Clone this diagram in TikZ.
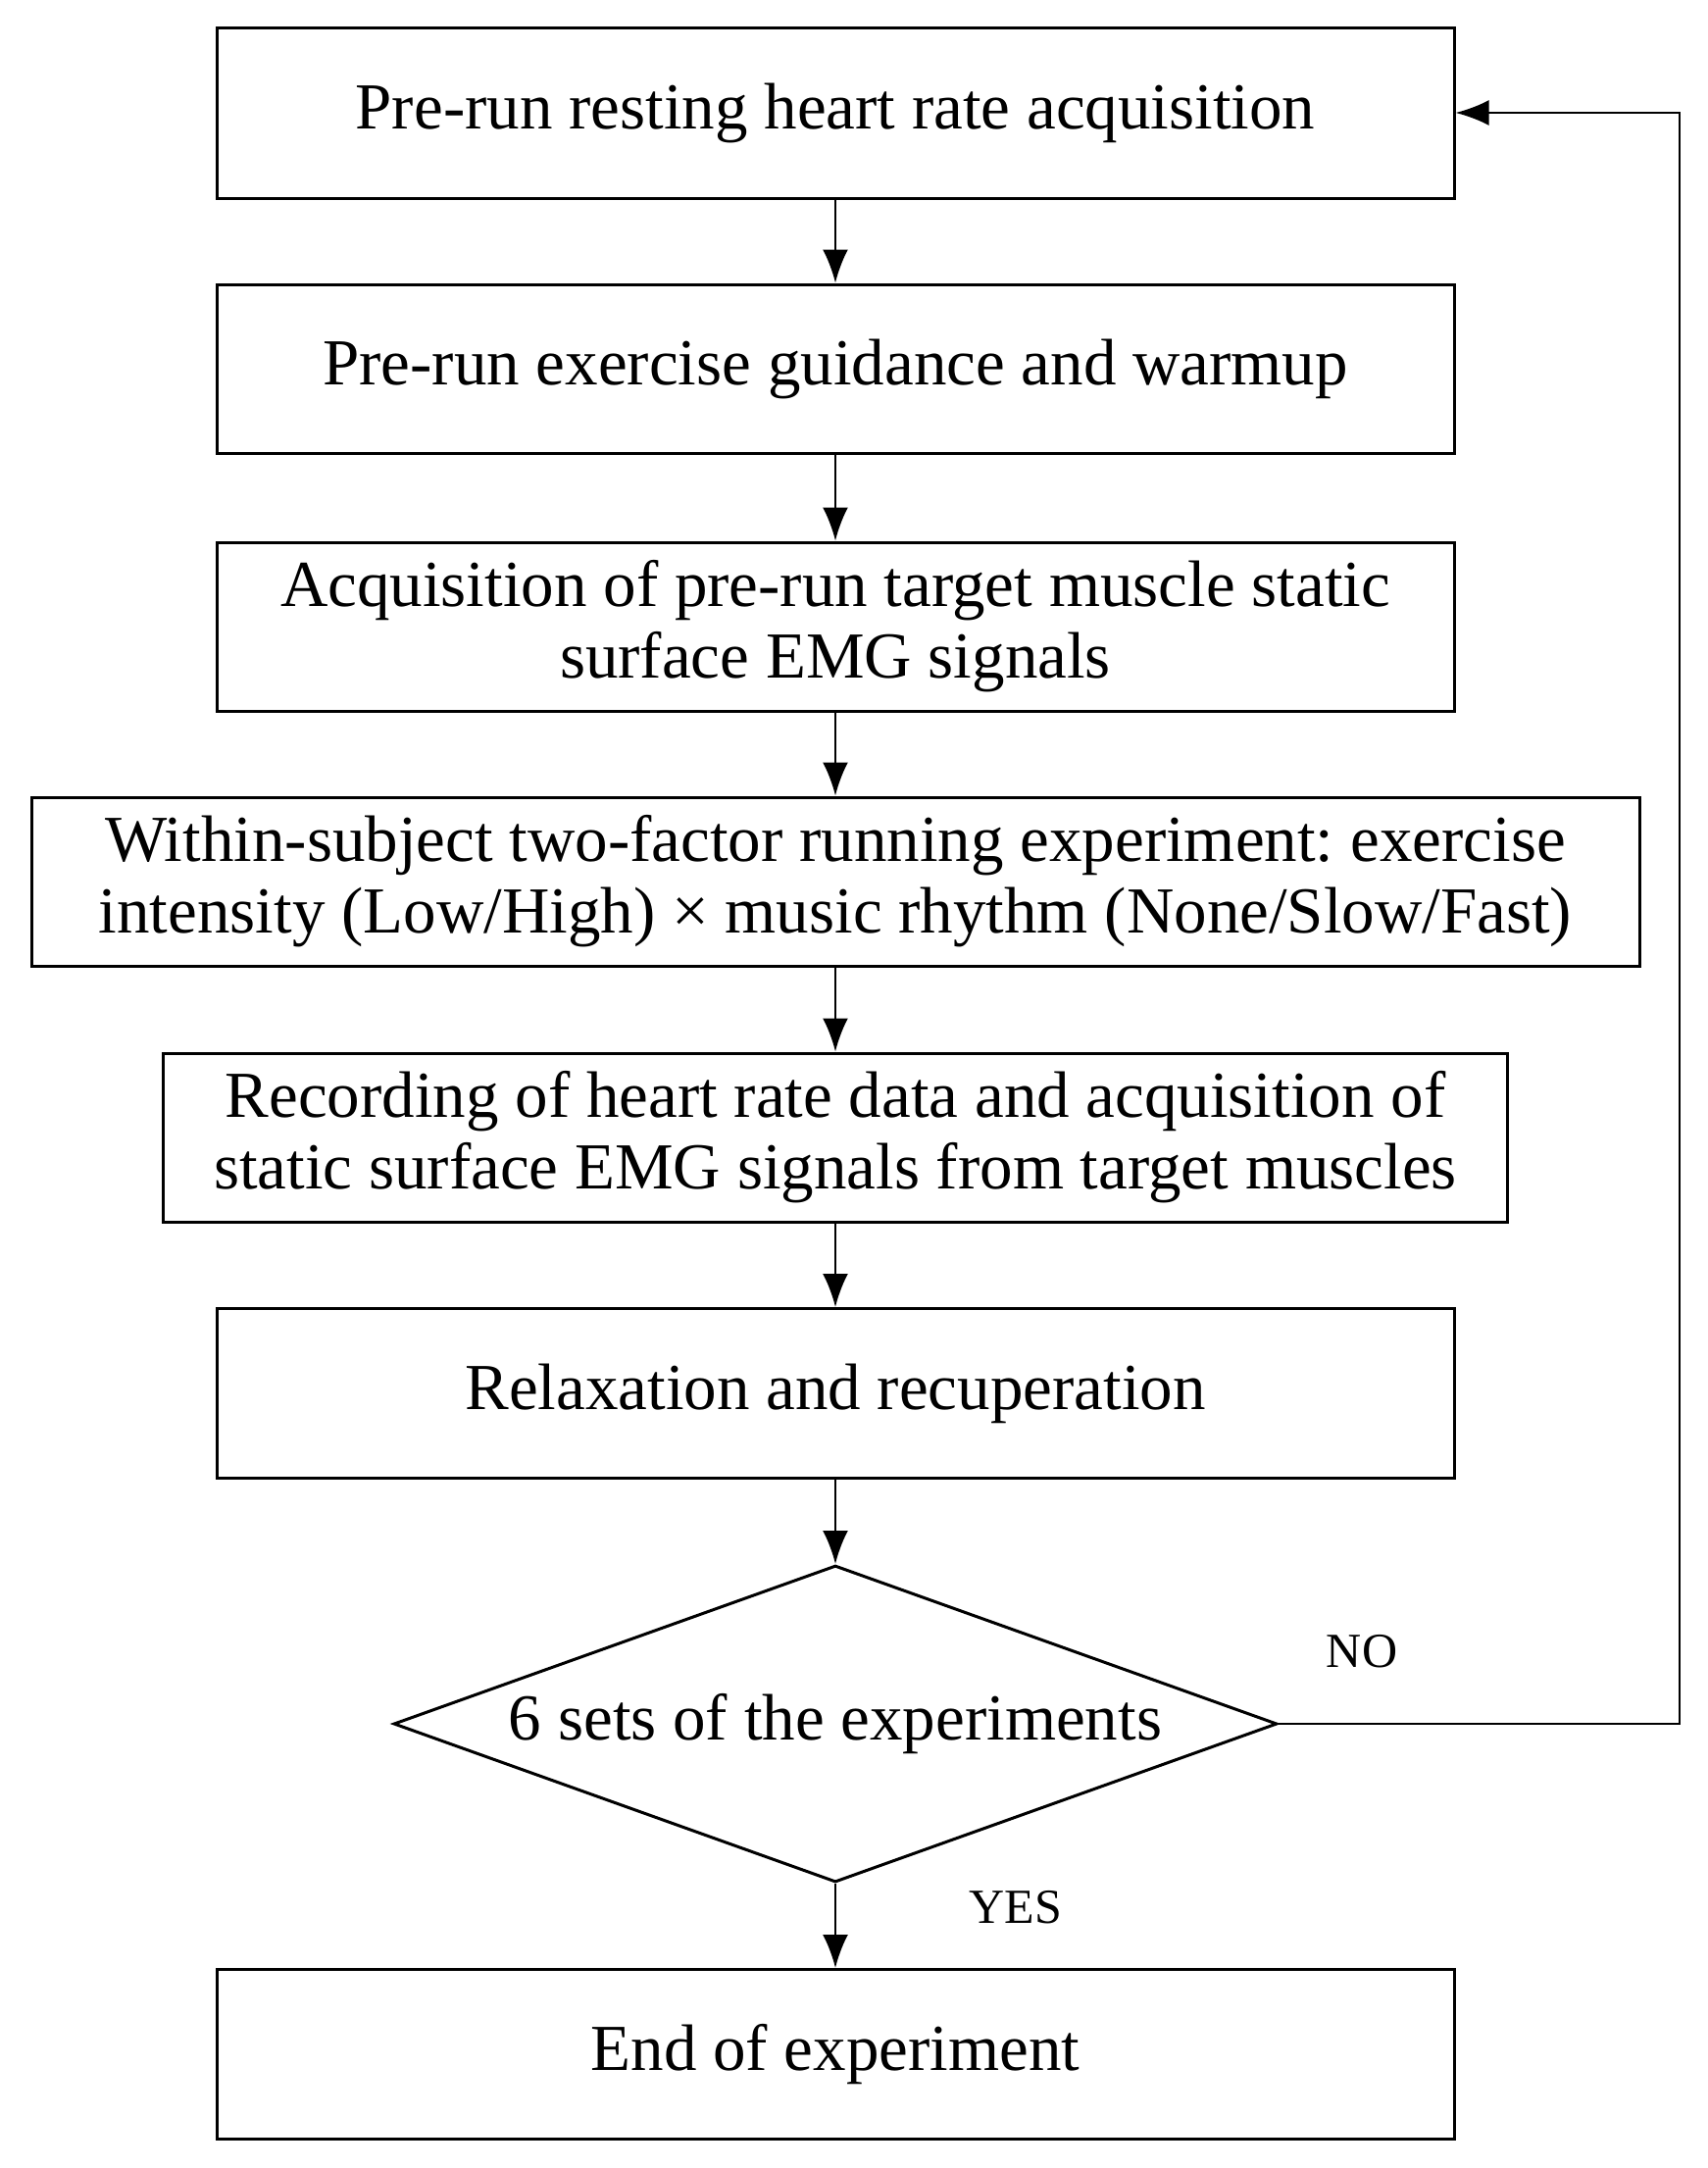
\documentclass[tikz,border=0pt]{standalone}
\usepackage{fontspec}
\setmainfont{Liberation Serif}
\usetikzlibrary{shapes.geometric,arrows.meta}
\begin{document}
\frenchspacing
\begin{tikzpicture}[x=0.5pt,y=-0.5pt,
  box/.style={draw,line width=1.5pt,inner sep=0pt,align=center,font=\fontsize{33.5}{36.5}\selectfont},
  arr/.style={line width=1.2pt,-{Latex[length=17pt,width=13pt]}},
  lab/.style={font=\fontsize{25}{27}\selectfont}]
\useasboundingbox (0,0) rectangle (1741,2211);
\node[box,minimum width=631pt,minimum height=87pt] (b1) at (852,115) {Pre-run resting heart rate acquisition};
\node[box,minimum width=631pt,minimum height=86pt] (b2) at (852,376) {Pre-run exercise guidance and warmup};
\node[box,minimum width=631pt,minimum height=86pt] (b3) at (852,639) {Acquisition of pre-run target muscle static\\surface EMG signals};
\node[box,minimum width=820pt,minimum height=86pt] (b4) at (852,899) {Within-subject two-factor running experiment: exercise\\intensity (Low/High) × music rhythm (None/Slow/Fast)};
\node[box,minimum width=685.5pt,minimum height=86pt] (b5) at (852,1160) {Recording of heart rate data and acquisition of\\static surface EMG signals from target muscles};
\node[box,minimum width=631pt,minimum height=86.5pt] (b6) at (852,1421) {Relaxation and recuperation};
\node[box,shape=diamond,aspect=2.79,minimum width=450.5pt,minimum height=161.5pt] (d) at (852,1758) {6 sets of the experiments};
\node[box,minimum width=631pt,minimum height=86.5pt] (b7) at (852,2095) {End of experiment};
\draw[arr] (b1) -- (b2);
\draw[arr] (b2) -- (b3);
\draw[arr] (b3) -- (b4);
\draw[arr] (b4) -- (b5);
\draw[arr] (b5) -- (b6);
\draw[arr] (b6) -- (d);
\draw[arr] (d) -- (b7);
\coordinate (c1) at (1713,1758);
\coordinate (c2) at (1713,115);
\draw[arr] (d.east) -- (c1) -- (c2) -- (b1.east);
\node[lab] (no) at (1389,1684) {NO};
\node[lab] (yes) at (1036,1945) {YES};
\end{tikzpicture}
\end{document}
